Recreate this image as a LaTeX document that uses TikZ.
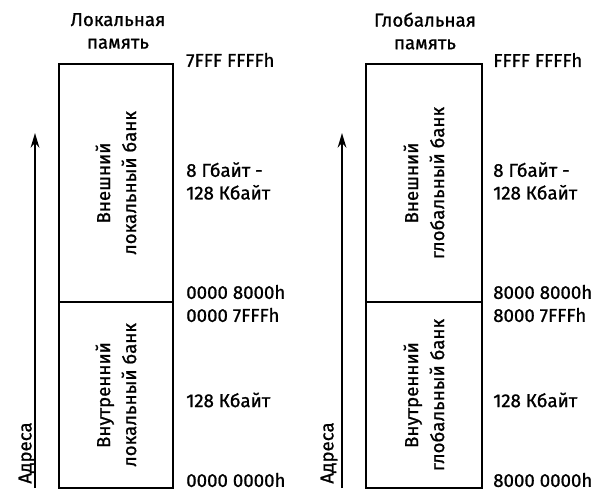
\documentclass[tikz,border=0pt]{standalone}
\usepackage{fontspec}
\setmainfont{Fira Sans}[FakeBold=1]
\usetikzlibrary{arrows.meta}
\begin{document}
\begin{tikzpicture}[x=0.75pt,y=-0.75pt,
  bank/.style={draw,line width=1.5pt,inner sep=0pt},
  txt/.style={font=\fontsize{14}{17}\selectfont,inner sep=0pt},
  intxt/.style={txt,rotate=90,align=center,font=\fontsize{14}{19.5}\selectfont},
  addr/.style={txt,anchor=west},
  axis/.style={line width=1.5pt,-{Stealth[length=11pt,width=6.5pt]}}]
\useasboundingbox (0,0) rectangle (602,492);
% left column
\node[txt,align=center] (lt) at (118,31) {Локальная\\память};
\node[bank,minimum width=114*0.75pt,minimum height=238*0.75pt] (lext) at (116,183) {};
\node[bank,minimum width=114*0.75pt,minimum height=186*0.75pt] (lint) at (116,395) {};
\node[intxt] (lextt) at (lext.center) {Внешний\\локальный банк};
\node[intxt] (lintt) at (lint.center) {Внутренний\\локальный банк};
\coordinate (la0) at (35,488);
\coordinate (la1) at (35,133);
\draw[axis] (la0) -- (la1);
\node[txt,rotate=90] (ladr) at (27,453) {Адреса};
\node[addr] (l1) at (186,60) {7FFF FFFFh};
\node[addr,align=left] (l2) at (186,181) {8 Гбайт -\\128 Кбайт};
\node[addr] (l3) at (186,292) {0000 8000h};
\node[addr] (l4) at (186,315) {0000 7FFFh};
\node[addr] (l5) at (186,400) {128 Кбайт};
\node[addr] (l6) at (186,480) {0000 0000h};
% right column
\node[txt,align=center] (gt) at (425,31) {Глобальная\\память};
\node[bank,minimum width=116*0.75pt,minimum height=238*0.75pt] (gext) at (424,183) {};
\node[bank,minimum width=116*0.75pt,minimum height=186*0.75pt] (gint) at (424,395) {};
\node[intxt] (gextt) at (gext.center) {Внешний\\глобальный банк};
\node[intxt] (gintt) at (gint.center) {Внутренний\\глобальный банк};
\coordinate (ga0) at (342,488);
\coordinate (ga1) at (342,133);
\draw[axis] (ga0) -- (ga1);
\node[txt,rotate=90] (gadr) at (329,453) {Адреса};
\node[addr] (g1) at (493,60) {FFFF FFFFh};
\node[addr,align=left] (g2) at (493,181) {8 Гбайт -\\128 Кбайт};
\node[addr] (g3) at (493,292) {8000 8000h};
\node[addr] (g4) at (493,315) {8000 7FFFh};
\node[addr] (g5) at (493,400) {128 Кбайт};
\node[addr] (g6) at (493,480) {8000 0000h};
\end{tikzpicture}
\end{document}
